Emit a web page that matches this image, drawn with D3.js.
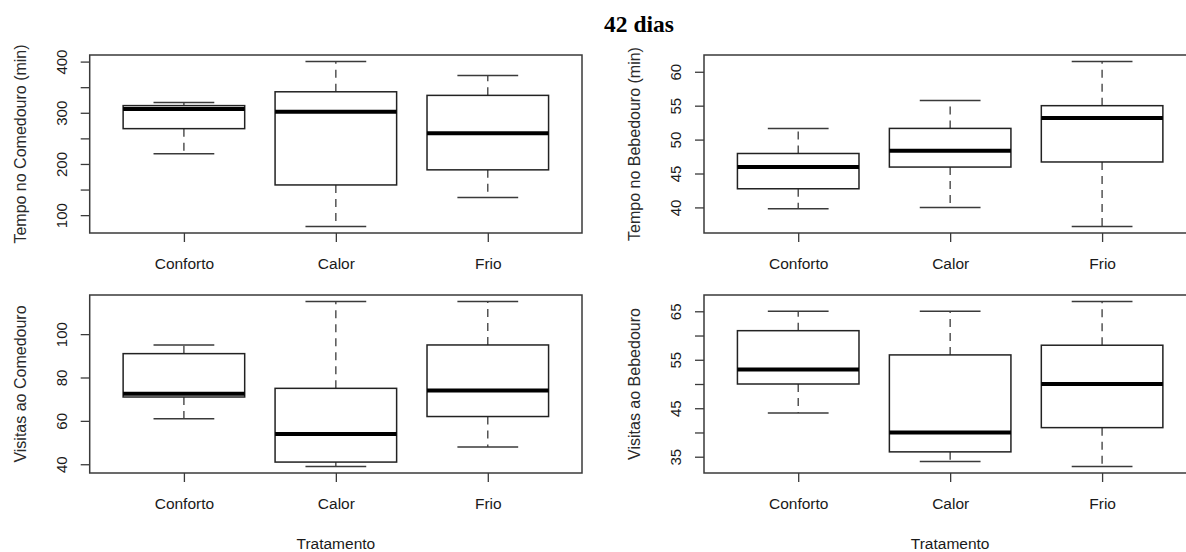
<!DOCTYPE html>
<html>
<head>
<meta charset="utf-8">
<script src="https://cdn.jsdelivr.net/npm/d3@7"></script>
<style>
  html, body { margin: 0; padding: 0; background: #fff; }
  svg { display: block; }
</style>
</head>
<body>
<svg id="chart" width="1186" height="552"></svg>
<script>
// ---- data ----
const title = "42 dias";
const categories = ["Conforto", "Calor", "Frio"];
const xTitle = "Tratamento";

// [lower whisker, Q1, median, Q3, upper whisker]
const tempoComedouro = [[220, 269, 307.5, 314, 320], [78, 159, 302, 341, 400], [134.5, 188.5, 260, 334, 373]];
const tempoBebedouro = [[39.8, 42.75, 45.95, 47.95, 51.65], [40.0, 45.95, 48.35, 51.65, 55.75], [37.2, 46.7, 53.2, 55.0, 61.5]];
const visitasComedouro = [[61, 71, 72.5, 91, 95], [39, 41, 54, 75, 115], [48, 62, 74, 95, 115]];
const visitasBebedouro = [[44, 50, 53, 61, 65], [34, 36, 40, 56, 65], [33, 41, 50, 58, 67]];

const yTitles = ["Tempo no Comedouro (min)", "Tempo no Bebedouro (min)", "Visitas ao Comedouro", "Visitas ao Bebedouro"];
const ticks1 = [100, 150, 200, 250, 300, 350, 400];
const tickLabels1 = ["100", "", "200", "", "300", "", "400"];
const ticks2 = [40, 45, 50, 55, 60];
const tickLabels2 = ["40", "45", "50", "55", "60"];
const ticks3 = [40, 60, 80, 100];
const tickLabels3 = ["40", "60", "80", "100"];
const ticks4 = [35, 40, 45, 50, 55, 60, 65];
const tickLabels4 = ["35", "", "45", "", "55", "", "65"];

const panels = [
  { data: tempoComedouro, yTitle: yTitles[0], ticks: ticks1, labels: tickLabels1, x0: 89.7, y0: 55, xlab: false },
  { data: tempoBebedouro, yTitle: yTitles[1], ticks: ticks2, labels: tickLabels2, x0: 704, y0: 55, xlab: false },
  { data: visitasComedouro, yTitle: yTitles[2], ticks: ticks3, labels: tickLabels3, x0: 89.7, y0: 295, xlab: true },
  { data: visitasBebedouro, yTitle: yTitles[3], ticks: ticks4, labels: tickLabels4, x0: 704, y0: 295, xlab: true }
];
const PW = 492.3, PH = 178;

const svg = d3.select("#chart");
const ink = "#1a1a1a";
const frame = "#3a3a3a";

svg.append("text")
  .attr("x", 639).attr("y", 32)
  .attr("text-anchor", "middle")
  .attr("font-family", "'Liberation Serif', 'Times New Roman', serif")
  .attr("font-weight", "bold")
  .attr("font-size", 23.5)
  .attr("fill", "#000")
  .text(title);

panels.forEach(p => {
  const g = svg.append("g").attr("transform", `translate(${p.x0},${p.y0})`);
  const allV = p.data.flat();
  const lo = d3.min(allV), hi = d3.max(allV), r = hi - lo;
  const y = d3.scaleLinear().domain([lo - 0.04 * r, hi + 0.04 * r]).range([PH, 0]);
  const x = d3.scaleLinear().domain([0.5 - 0.12, 3.5 + 0.12]).range([0, PW]);
  const xBand = d3.scalePoint().domain(categories).range([x(1), x(3)]);
  const bw = x(1.4) - x(1);      // half box width (0.8 total)
  const sw = x(1.2) - x(1);      // half staple width (0.4 total)

  // y axis
  const yAxis = d3.axisLeft(y).tickValues(p.ticks).tickSize(9)
    .tickFormat((d, i) => p.labels[i]);
  const ya = g.append("g").call(yAxis);
  ya.select(".domain").remove();
  ya.selectAll(".tick line").attr("stroke", frame).attr("stroke-width", 1.3);
  ya.selectAll(".tick text")
    .attr("transform", "rotate(-90)")
    .attr("x", 0).attr("y", -23).attr("dy", 0)
    .attr("text-anchor", "middle")
    .attr("font-family", "'Liberation Sans', Arial, sans-serif")
    .attr("font-size", 15)
    .attr("fill", ink);

  // x axis
  const xAxis = d3.axisBottom(xBand).tickSize(9);
  const xa = g.append("g").attr("transform", `translate(0,${PH})`).call(xAxis);
  xa.select(".domain").remove();
  xa.selectAll(".tick line").attr("stroke", frame).attr("stroke-width", 1.3);
  xa.selectAll(".tick text")
    .attr("y", 36).attr("dy", 0)
    .attr("font-family", "'Liberation Sans', Arial, sans-serif")
    .attr("font-size", 15.5)
    .attr("fill", ink);

  // boxes
  p.data.forEach((d, i) => {
    const cx = xBand(categories[i]);
    const [wl, q1, med, q3, wh] = d;
    // whiskers
    g.append("line").attr("x1", cx).attr("x2", cx).attr("y1", y(q3)).attr("y2", y(wh))
      .attr("stroke", frame).attr("stroke-width", 1.3).attr("stroke-dasharray", "8,6");
    g.append("line").attr("x1", cx).attr("x2", cx).attr("y1", y(q1)).attr("y2", y(wl))
      .attr("stroke", frame).attr("stroke-width", 1.3).attr("stroke-dasharray", "8,6");
    // staples
    [wl, wh].forEach(v => {
      g.append("line").attr("x1", cx - sw).attr("x2", cx + sw).attr("y1", y(v)).attr("y2", y(v))
        .attr("stroke", frame).attr("stroke-width", 1.5);
    });
    // box
    g.append("rect").attr("x", cx - bw).attr("width", 2 * bw)
      .attr("y", y(q3)).attr("height", y(q1) - y(q3))
      .attr("fill", "#fff").attr("stroke", "#222").attr("stroke-width", 1.5);
    // median
    g.append("line").attr("x1", cx - bw).attr("x2", cx + bw).attr("y1", y(med)).attr("y2", y(med))
      .attr("stroke", "#000").attr("stroke-width", 4);
  });

  // frame
  g.append("rect").attr("x", 0).attr("y", 0).attr("width", PW).attr("height", PH)
    .attr("fill", "none").attr("stroke", frame).attr("stroke-width", 1.5);

  // y title
  g.append("text")
    .attr("transform", `translate(-64,${PH / 2}) rotate(-90)`)
    .attr("text-anchor", "middle")
    .attr("font-family", "'Liberation Sans', Arial, sans-serif")
    .attr("font-size", 16)
    .attr("fill", "#2a2a2a")
    .text(p.yTitle);

  if (p.xlab) {
    g.append("text")
      .attr("x", PW / 2).attr("y", PH + 76)
      .attr("text-anchor", "middle")
      .attr("font-family", "'Liberation Sans', Arial, sans-serif")
      .attr("font-size", 15.5)
      .attr("fill", ink)
      .text(xTitle);
  }
});
</script>
</body>
</html>
